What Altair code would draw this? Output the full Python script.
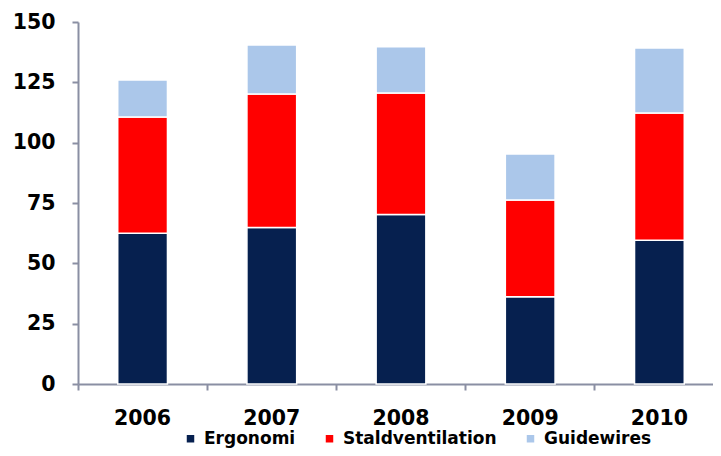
import altair as alt
import pandas as pd

years = ["2006", "2007", "2008", "2009", "2010"]
series = ["Ergonomi", "Staldventilation", "Guidewires"]
ergonomi = [62.5, 64.8, 70.2, 36.2, 59.6]
staldventilation = [48.1, 55.4, 50.4, 40.0, 52.7]
guidewires = [15.4, 20.3, 19.1, 19.1, 26.9]
colors = ["#06204f", "#ff0000", "#abc7ea"]

rows = []
for i, y in enumerate(years):
    for k, (name, vals) in enumerate(zip(series, [ergonomi, staldventilation, guidewires])):
        rows.append({"year": y, "series": name, "value": vals[i], "ord": k})
df = pd.DataFrame(rows)

FONT = "DejaVu Sans"
AXIS_COLOR = "#8a8fa3"

chart = alt.Chart(df).mark_bar(
    width=alt.RelativeBandSize(0.385), stroke="white", strokeWidth=1.5
).encode(
    x=alt.X("year:N", sort=years, title=None,
            scale=alt.Scale(paddingInner=0, paddingOuter=0, range=[0, 646]),
            axis=alt.Axis(labelAngle=0, bandPosition=0, labelFont=FONT, labelFontSize=20.5,
                          labelFontWeight="bold", labelColor="black", labelPadding=18,
                          tickSize=6, tickWidth=2, tickColor=AXIS_COLOR,
                          domainColor=AXIS_COLOR, domainWidth=2, grid=False,
                          labelBaseline="top")),
    y=alt.Y("value:Q", stack="zero", title=None,
            scale=alt.Scale(domain=[0, 150], nice=False),
            axis=alt.Axis(values=[0, 25, 50, 75, 100, 125, 150], labelFont=FONT,
                          labelFontSize=20.5, labelFontWeight="bold", labelColor="black",
                          labelPadding=17, tickSize=6, tickWidth=2, tickColor=AXIS_COLOR,
                          domainColor=AXIS_COLOR, domainWidth=2, grid=False)),
    color=alt.Color("series:N", sort=series,
                    scale=alt.Scale(domain=series, range=colors),
                    legend=alt.Legend(title=None, orient="none", direction="horizontal",
                                      legendX=104, legendY=408, symbolType="square",
                                      symbolSize=56, symbolStrokeWidth=0,
                                      labelFont=FONT, labelFontSize=17, labelLimit=0,
                                      labelFontWeight="bold", labelColor="black",
                                      labelOffset=5, columnPadding=25)),
    order=alt.Order("ord:Q", sort="ascending"),
).properties(
    width=635, height=362,
    autosize=alt.AutoSizeParams(type="none"),
    padding={"left": 70, "top": 14, "right": 0, "bottom": 64},
).configure_view(stroke=None)

chart.save("out.html", embed_options={"renderer": "svg", "actions": False})
